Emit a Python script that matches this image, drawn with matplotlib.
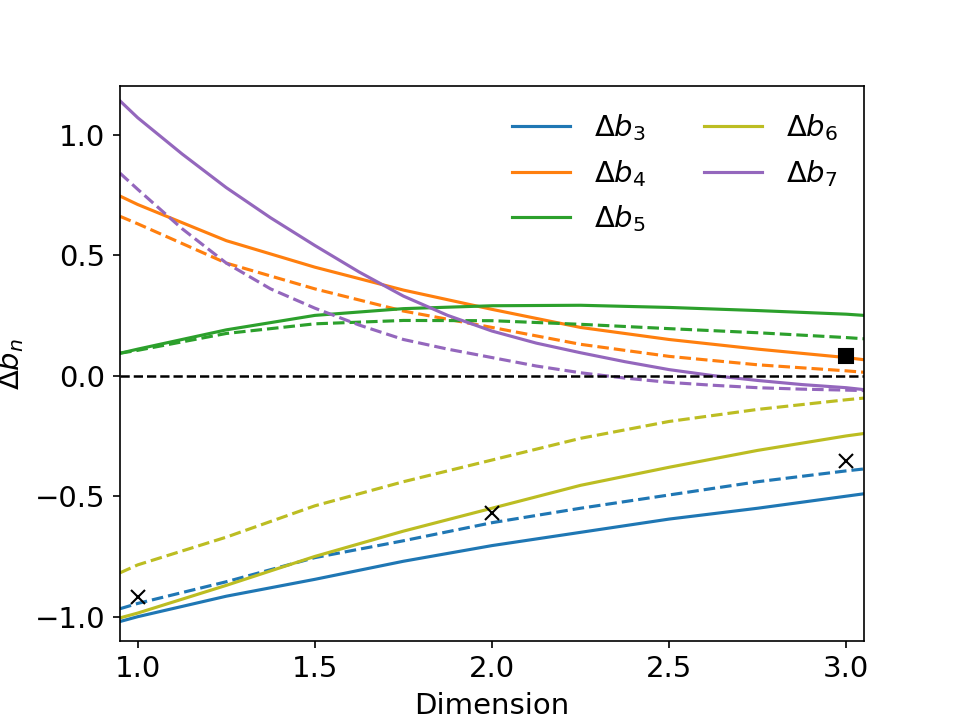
import numpy as np
import matplotlib
matplotlib.use("Agg")
import matplotlib.pyplot as plt

# values, dimension grid
dims = [0.95, 1.0, 1.25, 1.5, 1.75, 2.0, 2.25, 2.5, 2.75, 3.0, 3.05]
# finer grid for the strongly curved b7 lines
dims_b7 = [0.95, 1.0, 1.125, 1.25, 1.375, 1.5, 1.625, 1.75, 1.875, 2.0,
           2.125, 2.25, 2.375, 2.5, 2.625, 2.75, 2.875, 3.0, 3.05]

b3_solid = [-1.02, -1.0, -0.915, -0.845, -0.77, -0.705, -0.65, -0.595, -0.55, -0.50, -0.49]
b3_dash = [-0.967, -0.945, -0.855, -0.755, -0.685, -0.61, -0.55, -0.495, -0.44, -0.395, -0.387]
b4_solid = [0.745, 0.71, 0.56, 0.45, 0.355, 0.275, 0.20, 0.15, 0.11, 0.075, 0.066]
b4_dash = [0.661, 0.63, 0.467, 0.36, 0.268, 0.20, 0.13, 0.08, 0.045, 0.02, 0.014]
b5_solid = [0.093, 0.11, 0.19, 0.25, 0.278, 0.29, 0.292, 0.283, 0.27, 0.255, 0.25]
b5_dash = [0.093, 0.105, 0.175, 0.215, 0.229, 0.228, 0.213, 0.195, 0.178, 0.158, 0.153]
b6_solid = [-1.005, -0.985, -0.87, -0.75, -0.645, -0.55, -0.455, -0.38, -0.31, -0.25, -0.24]
b6_dash = [-0.818, -0.785, -0.67, -0.54, -0.44, -0.35, -0.26, -0.19, -0.14, -0.10, -0.093]
b7_solid = [1.14, 1.07, 0.92, 0.78, 0.655, 0.54, 0.43, 0.33, 0.25, 0.185,
            0.135, 0.095, 0.058, 0.025, 0.0, -0.02, -0.037, -0.05, -0.058]
b7_dash = [0.84, 0.773, 0.61, 0.467, 0.36, 0.28, 0.21, 0.15, 0.11, 0.075,
           0.04, 0.012, -0.01, -0.028, -0.04, -0.05, -0.056, -0.06, -0.062]

cross_x = [1, 2, 3]
cross_y = [-0.92, -0.57, -0.355]
square_x = [3]
square_y = [0.08]

plt.rcParams["font.size"] = 14

fig, ax = plt.subplots(figsize=(6.4, 4.8), dpi=150)

series = [
    (dims, b3_solid, b3_dash, "C0", r"$\Delta b_3$"),
    (dims, b4_solid, b4_dash, "C1", r"$\Delta b_4$"),
    (dims, b5_solid, b5_dash, "C2", r"$\Delta b_5$"),
    (dims, b6_solid, b6_dash, "C8", r"$\Delta b_6$"),
    (dims_b7, b7_solid, b7_dash, "C4", r"$\Delta b_7$"),
]
for xs, solid, dash, col, lab in series:
    ax.plot(xs, solid, color=col, label=lab)
    ax.plot(xs, dash, color=col, ls="--")

ax.axhline(0, color="k", ls="--", lw=1.2)
ax.plot(cross_x, cross_y, "kx", ms=7)
ax.plot(square_x, square_y, "ks", ms=7)

ax.set_xlim(0.95, 3.05)
ax.set_ylim(-1.1, 1.2)
ax.set_xlabel("Dimension")
ax.set_ylabel(r"$\Delta b_n$")
ax.legend(ncol=2, frameon=False, loc="upper right")

fig.savefig("out.png")
